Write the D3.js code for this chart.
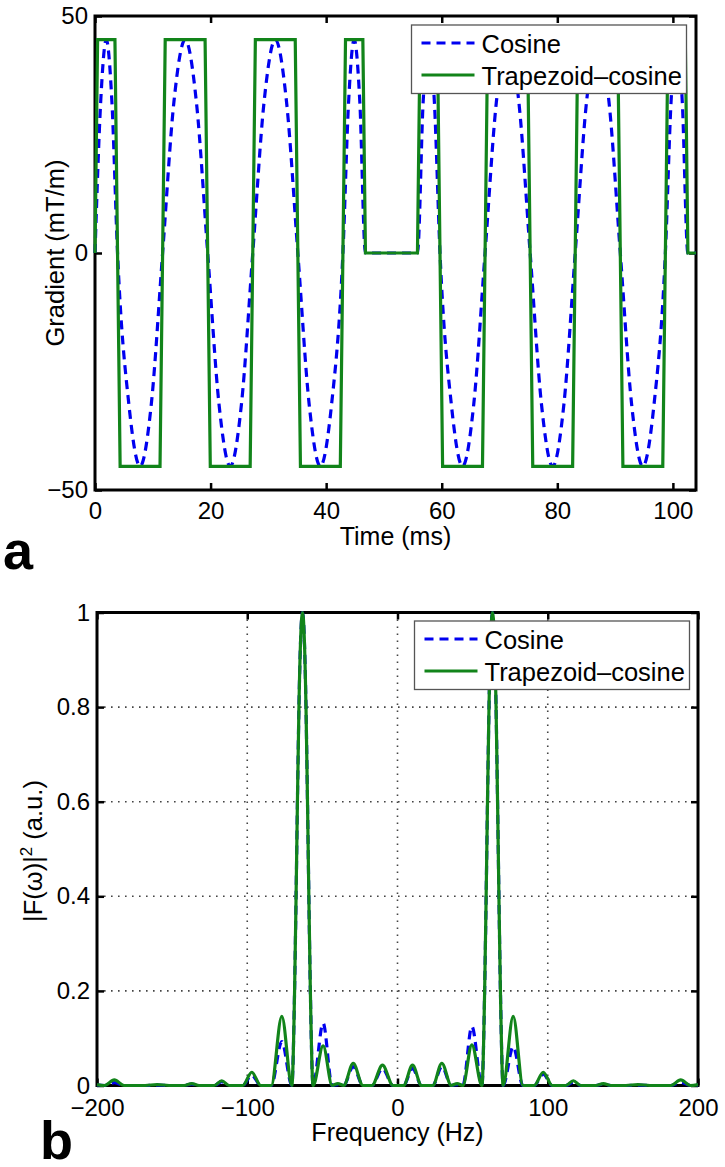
<!DOCTYPE html>
<html>
<head>
<meta charset="utf-8">
<script src="https://cdnjs.cloudflare.com/ajax/libs/d3/7.8.5/d3.min.js"></script>
<style>
  body { margin: 0; background: #fff; }
  svg { display: block; font-family: "Liberation Sans", Arial, Helvetica, sans-serif; }
</style>
</head>
<body>
<div class="chart"></div>
<script>
// Gradient Waveforms (panel a) - Trapezoid-Cosine Breakpoints
var trapTime = [0, 0.45, 3.45, 4.35, 11.25, 12.15, 19.05, 19.95, 26.85, 27.75, 34.65, 35.55, 42.45, 43.35, 46.35, 46.8,
  55.8, 56.25, 59.25, 60.15, 67.05, 67.95, 74.85, 75.75, 82.65, 83.55, 90.45, 91.35, 98.25, 99.15, 102.15, 102.6, 104];
var trapGrad = [0, 45, 45, -45, -45, 45, 45, -45, -45, 45, 45, -45, -45, 45, 45, 0,
  0, 45, 45, -45, -45, 45, 45, -45, -45, 45, 45, -45, -45, 45, 45, 0, 0];

// Cosine Waveform - Zero Crossings, Half Points and Extremes
var cosTime = [0, 0.98, 1.95, 2.93, 3.9, 5.85, 7.8, 9.75, 11.7, 13.65, 15.6, 17.55, 19.5, 21.45, 23.4, 25.35,
  27.3, 29.25, 31.2, 33.15, 35.1, 37.05, 39.0, 40.95, 42.9, 43.88, 44.85, 45.83, 46.8,
  55.8, 56.78, 57.75, 58.73, 59.7, 61.65, 63.6, 65.55, 67.5, 69.45, 71.4, 73.35, 75.3, 77.25, 79.2, 81.15,
  83.1, 85.05, 87.0, 88.95, 90.9, 92.85, 94.8, 96.75, 98.7, 99.68, 100.65, 101.63, 102.6, 104];
var cosGrad = [0, 31.8, 45, 31.8, 0, -31.8, -45, -31.8, 0, 31.8, 45, 31.8, 0, -31.8, -45, -31.8,
  0, 31.8, 45, 31.8, 0, -31.8, -45, -31.8, 0, 31.8, 45, 31.8, 0,
  0, 31.8, 45, 31.8, 0, -31.8, -45, -31.8, 0, 31.8, 45, 31.8, 0, -31.8, -45, -31.8,
  0, 31.8, 45, 31.8, 0, -31.8, -45, -31.8, 0, 31.8, 45, 31.8, 0, 0];

var timeTicks = [0, 20, 40, 60, 80, 100];
var gradTicks = [-50, 0, 50];

// Power Spectra (panel b) - Lobe Peaks and Nulls
var specFreq = [-200, -195, -188.5, -182, -168, -160, -152, -142, -137, -132, -122, -117, -112, -103, -97, -91, -84, -77,
  -70.3, -68.5, -67.5, -66.6, -65.6, -63.2, -60.9, -59.9, -59, -58, -56.2, -49.5, -43.5, -39.7, -35.8, -29.5, -23, -17, -10, -3,
  4, 10, 16, 23.5, 29.5, 35.8, 39.7, 43.5, 49.5, 56.2, 58, 59, 59.9, 60.9, 63.2, 65.6, 66.6, 67.5, 68.5, 70.3,
  77, 83.5, 91, 97, 103, 112, 117, 122, 132, 137, 142, 152, 160, 168, 182, 188.5, 195, 200];
var specTrap = [0.002, 0, 0.012, 0, 0, 0.002, 0, 0, 0.004, 0, 0, 0.010, 0, 0, 0.028, 0, 0, 0.146,
  0, 0.2, 0.4, 0.6, 0.8, 1, 0.8, 0.6, 0.4, 0.2, 0, 0.084, 0, 0.004, 0, 0.047, 0, 0, 0.043, 0,
  0, 0.043, 0, 0, 0.047, 0, 0.004, 0, 0.086, 0, 0.2, 0.4, 0.6, 0.8, 1, 0.8, 0.6, 0.4, 0.2, 0,
  0.146, 0, 0, 0.028, 0, 0, 0.010, 0, 0, 0.004, 0, 0, 0.002, 0, 0, 0.012, 0, 0.002];
var specCos = [0.001, 0, 0.006, 0, 0, 0.001, 0, 0, 0.003, 0, 0, 0.008, 0, 0, 0.022, 0, 0, 0.093,
  0, 0.2, 0.4, 0.6, 0.8, 1, 0.8, 0.6, 0.4, 0.2, 0, 0.132, 0, 0.002, 0, 0.040, 0, 0, 0.036, 0,
  0, 0.036, 0, 0, 0.040, 0, 0.002, 0, 0.125, 0, 0.2, 0.4, 0.6, 0.8, 1, 0.8, 0.6, 0.4, 0.2, 0,
  0.082, 0, 0, 0.024, 0, 0, 0.007, 0, 0, 0.003, 0, 0, 0.001, 0, 0, 0.007, 0, 0.001];

var freqTicks = [-200, -100, 0, 100, 200];
var powTicks = [0, 0.2, 0.4, 0.6, 0.8, 1];

var seriesNames = ["Cosine", "Trapezoid\u2013cosine"];

// Setup Page Dimensions
var svgWidth = 725;
var svgHeight = 1167;

// Axes Boxes (pixel edges) for the Two Panels
var boxA = { left: 95, right: 696, top: 16, bottom: 490 };
var boxB = { left: 97, right: 698, top: 612.5, bottom: 1085.5 };

var blueColor = "#0000f0";
var greenColor = "#12841a";

var svg = d3.select(".chart")
  .append("svg")
  .attr("width", svgWidth)
  .attr("height", svgHeight);

// MATLAB Style Minus Sign on Negative Tick Labels
function fmt(d) {
  return d < 0 ? "\u2212" + Math.abs(d) : String(d);
}

// Draw Box, Inward Ticks on All Four Sides and Tick Labels
function drawAxes(x, y, box, xTicks, yTicks, xPad) {
  var g = svg.append("g");

  var bottomAxis = d3.axisBottom(x).tickValues(xTicks).tickFormat(fmt)
    .tickSizeInner(-7).tickSizeOuter(0).tickPadding(xPad);
  var topAxis = d3.axisTop(x).tickValues(xTicks).tickFormat("")
    .tickSizeInner(-7).tickSizeOuter(0);
  var leftAxis = d3.axisLeft(y).tickValues(yTicks).tickFormat(fmt)
    .tickSizeInner(-7).tickSizeOuter(0).tickPadding(7);
  var rightAxis = d3.axisRight(y).tickValues(yTicks).tickFormat("")
    .tickSizeInner(-7).tickSizeOuter(0);

  g.append("g").attr("transform", `translate(0, ${box.bottom})`).call(bottomAxis);
  g.append("g").attr("transform", `translate(0, ${box.top})`).call(topAxis);
  g.append("g").attr("transform", `translate(${box.left}, 0)`).call(leftAxis);
  g.append("g").attr("transform", `translate(${box.right}, 0)`).call(rightAxis);

  g.selectAll(".domain").remove();
  g.selectAll(".tick line").attr("stroke", "#000").attr("stroke-width", 2.5);
  g.selectAll("g")
    .attr("font-family", null)
    .attr("font-size", 24);
  g.selectAll(".tick text").attr("fill", "#000");

  // Black Box Around the Axes
  g.append("rect")
    .attr("x", box.left)
    .attr("y", box.top)
    .attr("width", box.right - box.left)
    .attr("height", box.bottom - box.top)
    .attr("fill", "none")
    .attr("stroke", "#000")
    .attr("stroke-width", 3);
}

// Legend With White Background (covers the curves behind it)
function drawLegend(lx, ly) {
  var g = svg.append("g").attr("transform", `translate(${lx}, ${ly})`);
  g.append("rect")
    .attr("width", 275)
    .attr("height", 68.5)
    .attr("fill", "#fff")
    .attr("stroke", "#555")
    .attr("stroke-width", 1.3);

  var rows = [
    { name: seriesNames[0], color: blueColor, dash: "9,6", y: 18 },
    { name: seriesNames[1], color: greenColor, dash: null, y: 50 }
  ];
  rows.forEach(function(r) {
    g.append("line")
      .attr("x1", 10).attr("x2", 63)
      .attr("y1", r.y).attr("y2", r.y)
      .attr("stroke", r.color)
      .attr("stroke-width", 3.2)
      .attr("stroke-dasharray", r.dash);
    g.append("text")
      .attr("x", 70)
      .attr("y", r.y + 9.5)
      .attr("font-size", 25.5)
      .attr("fill", "#000")
      .text(r.name);
  });
}

// ---------------- Panel a: Gradient vs Time ----------------
var xTime = d3.scaleLinear().domain([0, 104]).range([boxA.left, boxA.right]);
var yGrad = d3.scaleLinear().domain([-50, 50]).range([boxA.bottom, boxA.top]);

drawAxes(xTime, yGrad, boxA, timeTicks, gradTicks, 12);

var cosLine = d3.line()
  .x(i => xTime(cosTime[i]))
  .y(i => yGrad(cosGrad[i]))
  .curve(d3.curveMonotoneX);

var trapLine = d3.line()
  .x(i => xTime(trapTime[i]))
  .y(i => yGrad(trapGrad[i]));

svg.append("path")
  .attr("d", cosLine(d3.range(cosTime.length)))
  .attr("fill", "none")
  .attr("stroke", blueColor)
  .attr("stroke-width", 3.2)
  .attr("stroke-dasharray", "9,6");

svg.append("path")
  .attr("d", trapLine(d3.range(trapTime.length)))
  .attr("fill", "none")
  .attr("stroke", greenColor)
  .attr("stroke-width", 3.2)
  .attr("stroke-linejoin", "miter");

drawLegend(411.5, 25);

// Axis Labels
svg.append("text")
  .attr("x", (boxA.left + boxA.right) / 2)
  .attr("y", 545)
  .attr("text-anchor", "middle")
  .attr("font-size", 25)
  .text("Time (ms)");

svg.append("text")
  .attr("transform", `translate(63.5, ${yGrad(0)}) rotate(-90)`)
  .attr("text-anchor", "middle")
  .attr("font-size", 25.5)
  .text("Gradient (mT/m)");

svg.append("text")
  .attr("x", 3)
  .attr("y", 569)
  .attr("font-size", 54)
  .attr("font-weight", "bold")
  .text("a");

// ---------------- Panel b: Power Spectrum ----------------
var xFreq = d3.scaleLinear().domain([-200, 200]).range([boxB.left, boxB.right]);
var yPow = d3.scaleLinear().domain([0, 1]).range([boxB.bottom, boxB.top]);

// Dotted Grid Lines
var grid = svg.append("g")
  .attr("stroke", "#444")
  .attr("stroke-width", 1.6)
  .attr("stroke-dasharray", "1.6,5.4");
grid.selectAll(".vgrid")
  .data(freqTicks.filter(d => d > -200 && d < 200))
  .enter()
  .append("line")
  .attr("x1", d => xFreq(d)).attr("x2", d => xFreq(d))
  .attr("y1", boxB.top).attr("y2", boxB.bottom);
grid.selectAll(".hgrid")
  .data(powTicks.filter(d => d > 0 && d < 1))
  .enter()
  .append("line")
  .attr("x1", boxB.left).attr("x2", boxB.right)
  .attr("y1", d => yPow(d)).attr("y2", d => yPow(d));

drawAxes(xFreq, yPow, boxB, freqTicks, powTicks, 13.5);

var specLine = function(values) {
  return d3.line()
    .x(i => xFreq(specFreq[i]))
    .y(i => yPow(values[i]))
    .curve(d3.curveMonotoneX)(d3.range(specFreq.length));
};

svg.append("path")
  .attr("d", specLine(specCos))
  .attr("fill", "none")
  .attr("stroke", blueColor)
  .attr("stroke-width", 3.2)
  .attr("stroke-dasharray", "9,6");

svg.append("path")
  .attr("d", specLine(specTrap))
  .attr("fill", "none")
  .attr("stroke", greenColor)
  .attr("stroke-width", 3.2);

drawLegend(414.5, 621);

svg.append("text")
  .attr("x", (boxB.left + boxB.right) / 2)
  .attr("y", 1141)
  .attr("text-anchor", "middle")
  .attr("font-size", 25)
  .text("Frequency (Hz)");

var yLab = svg.append("text")
  .attr("transform", `translate(42, ${(boxB.top + boxB.bottom) / 2 + 2}) rotate(-90)`)
  .attr("text-anchor", "middle")
  .attr("font-size", 25.5);
yLab.append("tspan").text("|F(\u03c9)|");
yLab.append("tspan").attr("dy", -10).attr("font-size", 17).text("2");
yLab.append("tspan").attr("dy", 10).text(" (a.u.)");

svg.append("text")
  .attr("x", 40)
  .attr("y", 1159)
  .attr("font-size", 54)
  .attr("font-weight", "bold")
  .text("b");
</script>
</body>
</html>
